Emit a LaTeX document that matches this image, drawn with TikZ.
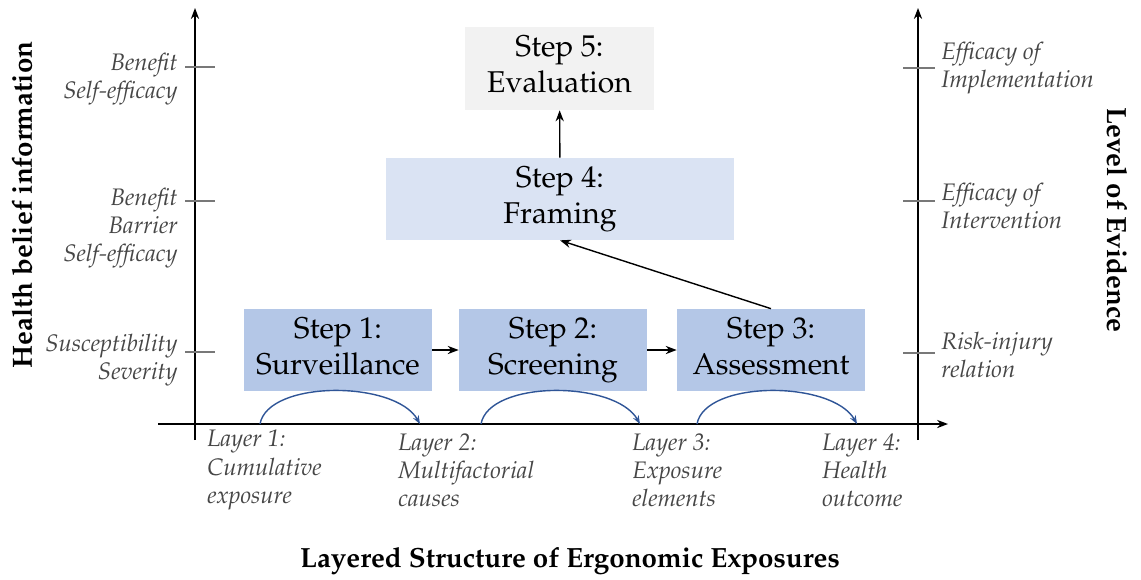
\documentclass[tikz,border=0pt]{standalone}
\usepackage[T1]{fontenc}
\usepackage{mathpazo}
\usetikzlibrary{arrows.meta,positioning}
\definecolor{stepblue}{RGB}{180,199,231}
\definecolor{framblue}{RGB}{218,227,243}
\definecolor{evalgray}{RGB}{242,242,242}
\definecolor{labgray}{RGB}{70,70,70}
\definecolor{tickgray}{RGB}{120,120,120}
\definecolor{arcblue}{RGB}{47,85,151}
\tikzset{
  >={Stealth[length=2.2mm]},
  stepbox/.style={fill=#1,minimum width=3.76cm,minimum height=1.64cm,align=center,
    inner sep=0pt,font=\fontsize{17.1}{20.5}\selectfont,
    execute at end node={\vphantom{g}}},
  stepbox/.default=stepblue,
  lab/.style={font=\fontsize{13.6}{16}\selectfont\itshape,text=labgray,inner sep=0pt},
  title/.style={font=\fontsize{15.8}{18}\selectfont\bfseries,inner sep=0pt},
  axis/.style={->,thick},
  tick/.style={draw=tickgray,thick},
  flow/.style={->,thick},
  layerarc/.style={->,draw=arcblue,thick,>={Stealth[length=1.7mm]}},
}
\begin{document}
\begin{tikzpicture}[x=0.02cm,y=-0.02cm]
  \useasboundingbox (0,0) rectangle (1141,579);
  % axes
  \coordinate (lb) at (195,440); \coordinate (lt) at (195,8);
  \coordinate (rb) at (918,440); \coordinate (rt) at (918,8);
  \coordinate (hl) at (158,424); \coordinate (hr) at (948,424);
  \draw[axis] (lb) -- (lt);
  \draw[axis] (rb) -- (rt);
  \draw[axis] (hl) -- (hr);
  \foreach \y in {67,201,352} \draw[tick] (185,\y) -- (215,\y);
  \foreach \y in {68,201,353} \draw[tick] (903,\y) -- (935,\y);
  % steps
  \node[stepbox] (s1) at (338,350) {Step 1:\\Surveillance};
  \node[stepbox] (s2) at (553,350) {Step 2:\\Screening};
  \node[stepbox] (s3) at (771,350) {Step 3:\\Assessment};
  \node[stepbox=framblue,minimum width=6.96cm] (s4) at (560,199) {Step 4:\\Framing};
  \node[stepbox=evalgray,minimum width=3.78cm,minimum height=1.66cm] (s5) at (559.5,68.5) {Step 5:\\Evaluation};
  \draw[flow] (s1) -- (s2);
  \draw[flow] (s2) -- (s3);
  \draw[flow] (s3.north) -- (s4.south);
  \draw[flow] (s4) -- (s5);
  % health belief labels
  \node[lab,align=right,anchor=east] (hb1) at (178,79) {Benefit\\Self-efficacy};
  \node[lab,align=right,anchor=east] (hb2) at (178,228) {Benefit\\Barrier\\Self-efficacy};
  \node[lab,align=right,anchor=east] (hb3) at (178,360) {Susceptibility\\Severity};
  % evidence labels
  \node[lab,align=left,anchor=west] (ev1) at (941,68) {Efficacy of\\Implementation};
  \node[lab,align=left,anchor=west] (ev2) at (941,206) {Efficacy of\\Intervention};
  \node[lab,align=left,anchor=west] (ev3) at (941,355) {Risk-injury\\relation};
  % layers
  \node[lab,align=left,anchor=west] (ly1) at (207,470) {Layer 1:\\Cumulative\\exposure};
  \node[lab,align=left,anchor=west] (ly2) at (398,470) {Layer 2:\\Multifactorial\\causes};
  \node[lab,align=left,anchor=west] (ly3) at (632,470) {Layer 3:\\Exposure\\elements};
  \node[lab,align=left,anchor=west] (ly4) at (822,470) {Layer 4:\\Health\\outcome};
  \foreach \a/\b [count=\i] in {260/420,481/640,697/857} {
    \coordinate (a\i) at (\a,424); \coordinate (b\i) at (\b,424);
    \draw[layerarc] (a\i) .. controls (\a+8,380) and (\b-25,380) .. (b\i);
  }
  % titles
  \node[title,rotate=90] (hbt) at (22,205) {Health belief information};
  \node[title,rotate=-90] (evt) at (1117,220) {Level of Evidence};
  \node[title] (lst) at (570,561) {Layered Structure of Ergonomic Exposures};
\end{tikzpicture}
\end{document}
